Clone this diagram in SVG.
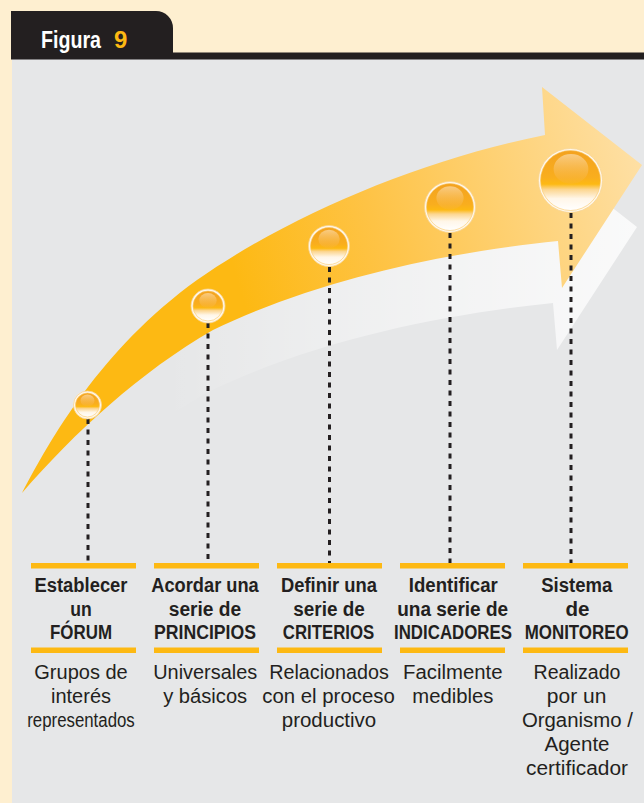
<svg xmlns="http://www.w3.org/2000/svg" width="644" height="803" viewBox="0 0 644 803">
  <defs>
    <style>
      .bar { fill: #FDB913; }
      .head { font-family: "Liberation Sans", Arial, sans-serif; font-weight: bold; font-size: 19.5px; fill: #231F20; text-anchor: middle; }
      .desc { font-family: "Liberation Sans", Arial, sans-serif; font-size: 20px; fill: #231F20; text-anchor: middle; }
      .title { font-family: "Liberation Sans", Arial, sans-serif; font-weight: bold; font-size: 24px; }
      .ring { fill: #FFF8EC; stroke: #F8D494; stroke-width: 0.8; }
      .body { fill: url(#orbBody); stroke: #FAC867; stroke-width: 0.6; }
      .gloss { fill: url(#orbGloss); }
      .leader { fill: none; stroke: #231F20; stroke-width: 3; stroke-dasharray: 5 5.5; }
    </style>
    <linearGradient id="arrowFill" gradientUnits="userSpaceOnUse" x1="240" y1="290" x2="640" y2="170">
      <stop offset="0" stop-color="#FDB913"/>
      <stop offset="0.35" stop-color="#FEC345"/>
      <stop offset="1" stop-color="#FEDFA3"/>
    </linearGradient>
    <linearGradient id="shadowFill" gradientUnits="userSpaceOnUse" x1="170" y1="0" x2="630" y2="0">
      <stop offset="0" stop-color="#FFFFFF" stop-opacity="0"/>
      <stop offset="0.45" stop-color="#FFFFFF" stop-opacity="0.4"/>
      <stop offset="1" stop-color="#FFFFFF" stop-opacity="0.78"/>
    </linearGradient>
    <linearGradient id="orbBody" x1="0" y1="0" x2="0" y2="1">
      <stop offset="0" stop-color="#F3A21F"/>
      <stop offset="0.45" stop-color="#F9AE1E"/>
      <stop offset="0.56" stop-color="#FDB913"/>
      <stop offset="0.65" stop-color="#FCD690"/>
      <stop offset="0.8" stop-color="#FFF6E8"/>
      <stop offset="1" stop-color="#FFFFFF"/>
    </linearGradient>
    <linearGradient id="orbGloss" x1="0" y1="0" x2="0" y2="1">
      <stop offset="0" stop-color="#FAD08E" stop-opacity="0.9"/>
      <stop offset="1" stop-color="#F7B23C" stop-opacity="0.25"/>
    </linearGradient>
    <!-- sweeping arrow outline, shared by the arrow and its pale shadow -->
    <path id="arrowShape" d="M22,493 C50,440 100,350 197,280 C290,215 420,160 545,135 L542,87 L642,165 L562,288 L558,241 C450,252 320,278 213,330 C140,372 75,432 22,493 Z"/>
  </defs>

  <!-- page and panel -->
  <rect x="0" y="0" width="644" height="803" fill="#FEEFD0"/>
  <rect x="12" y="59" width="632" height="744" fill="#E6E7E8"/>

  <!-- title tab -->
  <g id="header">
    <path d="M11,59.5 V11 H156 A17,17 0 0 1 173,28 V52.5 H644 V59.5 Z" fill="#231F20"/>
    <text class="title" x="41" y="47.5" fill="#FFFFFF" textLength="60" lengthAdjust="spacingAndGlyphs">Figura</text>
    <text class="title" x="114" y="47.5" fill="#FDB913">9</text>
  </g>

  <!-- arrow -->
  <g id="arrow">
    <use href="#arrowShape" transform="translate(-5,62)" fill="url(#shadowFill)"/>
    <use href="#arrowShape" fill="url(#arrowFill)"/>
  </g>

  <!-- dashed leaders from each orb down to its label -->
  <g id="connectors">
    <line class="leader" x1="88" y1="419" x2="88" y2="563"/>
    <line class="leader" x1="208" y1="323" x2="208" y2="563"/>
    <line class="leader" x1="329.5" y1="267" x2="329.5" y2="563"/>
    <line class="leader" x1="450" y1="233" x2="450" y2="563"/>
    <line class="leader" x1="571" y1="213" x2="571" y2="563"/>
  </g>

  <g id="step-1">
    <circle class="ring" cx="87.5" cy="405" r="14"/>
    <circle class="body" cx="87.5" cy="405" r="12"/>
    <ellipse class="gloss" cx="87.5" cy="400.5" rx="7" ry="6"/>
    <rect class="bar" x="31" y="563" width="105" height="5.5"/>
    <text class="head" x="81" y="592" textLength="93" lengthAdjust="spacingAndGlyphs">Establecer</text>
    <text class="head" x="81" y="615.5" textLength="21.5" lengthAdjust="spacingAndGlyphs">un</text>
    <text class="head" x="81" y="639" textLength="62" lengthAdjust="spacingAndGlyphs">FÓRUM</text>
    <rect class="bar" x="31" y="647.5" width="105" height="5.5"/>
    <text class="desc" x="81" y="679" textLength="93.5" lengthAdjust="spacingAndGlyphs">Grupos de</text>
    <text class="desc" x="81" y="703" textLength="60" lengthAdjust="spacingAndGlyphs">interés</text>
    <text class="desc" x="81" y="727" textLength="107.5" lengthAdjust="spacingAndGlyphs">representados</text>
  </g>

  <g id="step-2">
    <circle class="ring" cx="208" cy="306" r="17"/>
    <circle class="body" cx="208" cy="306" r="15"/>
    <ellipse class="gloss" cx="208" cy="300.5" rx="8.7" ry="7.5"/>
    <rect class="bar" x="154" y="563" width="105" height="5.5"/>
    <text class="head" x="205" y="592" textLength="107.5" lengthAdjust="spacingAndGlyphs">Acordar una</text>
    <text class="head" x="205" y="615.5" textLength="72.5" lengthAdjust="spacingAndGlyphs">serie de</text>
    <text class="head" x="205" y="639" textLength="102" lengthAdjust="spacingAndGlyphs">PRINCIPIOS</text>
    <rect class="bar" x="154" y="647.5" width="105" height="5.5"/>
    <text class="desc" x="205.2" y="679" textLength="104" lengthAdjust="spacingAndGlyphs">Universales</text>
    <text class="desc" x="205.2" y="703" textLength="84" lengthAdjust="spacingAndGlyphs">y básicos</text>
  </g>

  <g id="step-3">
    <circle class="ring" cx="329" cy="246" r="20.5"/>
    <circle class="body" cx="329" cy="246" r="18.5"/>
    <ellipse class="gloss" cx="329" cy="239" rx="10.7" ry="9.2"/>
    <rect class="bar" x="277" y="563" width="105" height="5.5"/>
    <text class="head" x="329" y="592" textLength="96" lengthAdjust="spacingAndGlyphs">Definir una</text>
    <text class="head" x="329" y="615.5" textLength="71.5" lengthAdjust="spacingAndGlyphs">serie de</text>
    <text class="head" x="328.5" y="639" textLength="91.5" lengthAdjust="spacingAndGlyphs">CRITERIOS</text>
    <rect class="bar" x="277" y="647.5" width="105" height="5.5"/>
    <text class="desc" x="329" y="679" textLength="119.5" lengthAdjust="spacingAndGlyphs">Relacionados</text>
    <text class="desc" x="328.5" y="703" textLength="132.5" lengthAdjust="spacingAndGlyphs">con el proceso</text>
    <text class="desc" x="329" y="727" textLength="94.5" lengthAdjust="spacingAndGlyphs">productivo</text>
  </g>

  <g id="step-4">
    <circle class="ring" cx="450" cy="207" r="25.5"/>
    <circle class="body" cx="450" cy="207" r="23.5"/>
    <ellipse class="gloss" cx="450" cy="198" rx="13.6" ry="11.7"/>
    <rect class="bar" x="400" y="563" width="105" height="5.5"/>
    <text class="head" x="453.3" y="592" textLength="89" lengthAdjust="spacingAndGlyphs">Identificar</text>
    <text class="head" x="452.7" y="615.5" textLength="111" lengthAdjust="spacingAndGlyphs">una serie de</text>
    <text class="head" x="453" y="639" textLength="118" lengthAdjust="spacingAndGlyphs">INDICADORES</text>
    <rect class="bar" x="400" y="647.5" width="105" height="5.5"/>
    <text class="desc" x="452.8" y="679" textLength="99.5" lengthAdjust="spacingAndGlyphs">Facilmente</text>
    <text class="desc" x="452.8" y="703" textLength="81" lengthAdjust="spacingAndGlyphs">medibles</text>
  </g>

  <g id="step-5">
    <circle class="ring" cx="570.5" cy="180.5" r="32"/>
    <circle class="body" cx="570.5" cy="180.5" r="30"/>
    <ellipse class="gloss" cx="571" cy="169" rx="17.4" ry="15"/>
    <rect class="bar" x="523" y="563" width="105" height="5.5"/>
    <text class="head" x="576.7" y="592" textLength="71" lengthAdjust="spacingAndGlyphs">Sistema</text>
    <text class="head" x="577.5" y="615.5" textLength="24" lengthAdjust="spacingAndGlyphs">de</text>
    <text class="head" x="576.7" y="639" textLength="104" lengthAdjust="spacingAndGlyphs">MONITOREO</text>
    <rect class="bar" x="523" y="647.5" width="105" height="5.5"/>
    <text class="desc" x="577" y="679" textLength="87" lengthAdjust="spacingAndGlyphs">Realizado</text>
    <text class="desc" x="576.6" y="703" textLength="59.5" lengthAdjust="spacingAndGlyphs">por un</text>
    <text class="desc" x="577.4" y="727" textLength="111" lengthAdjust="spacingAndGlyphs">Organismo /</text>
    <text class="desc" x="577" y="751" textLength="65" lengthAdjust="spacingAndGlyphs">Agente</text>
    <text class="desc" x="577" y="775" textLength="102" lengthAdjust="spacingAndGlyphs">certificador</text>
  </g>
</svg>
